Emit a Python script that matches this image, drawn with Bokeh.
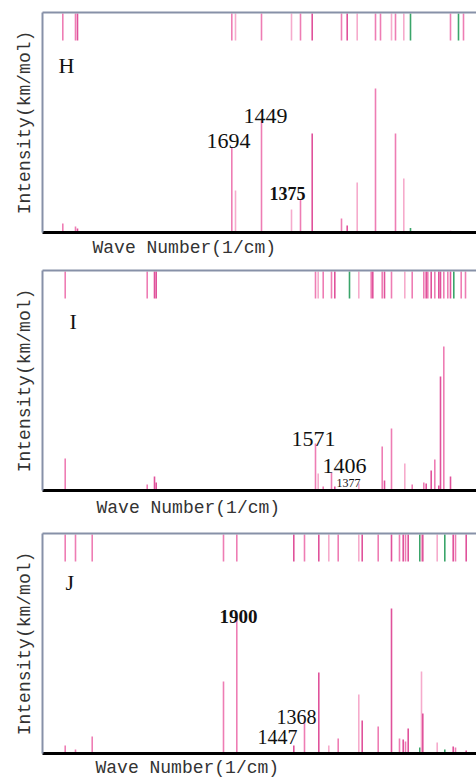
from bokeh.plotting import figure
from bokeh.layouts import column
from bokeh.models import Range1d, LinearAxis, FixedTicker, Title, Label, ColumnDataSource
from bokeh.embed import file_html
from bokeh.resources import INLINE

# ---- data (position along the spectrum in arbitrary units, intensity in km/mol, arbitrary scale) ----
H_pos = [20.3, 33, 35, 189.3, 193, 219, 249, 258, 269.7, 299, 304.7, 314.7, 333, 338, 349, 353, 361.3, 368, 408, 416, 421]
H_int = [9, 6, 4, 85, 42, 112, 23, 33, 99, 14, 7, 50, 144, 0.5, 0.5, 99, 54, 4.4, 1.7, 1, 0.5]
H_kind = ["P", "P", "D", "P", "L", "P", "L", "P", "D", "P", "D", "L", "P", "P", "L", "P", "L", "G", "P", "G", "P"]

I_pos = [22.7, 104.7, 112, 113.7, 273, 275.7, 280.7, 289, 292.3, 307, 316.3, 328.7, 330.3, 339.7, 342, 349, 362.3,
         369.7, 381.3, 383.7, 385.3, 388.7, 392.3, 396.3, 398, 401.3, 405.3, 408, 411.3, 418.7, 423]
I_int = [32, 6, 14, 8, 47, 17, 4, 18, 4, 0.5, 7, 0.5, 1, 44, 10, 62, 27,
         6, 8, 7, 0.5, 20, 31, 5, 114, 144, 0.5, 14, 0.5, 0.5, 0.5]
I_kind = ["P", "P", "D", "D", "P", "L", "P", "P", "D", "G", "L", "P", "D", "P", "D", "P", "L",
          "P", "P", "D", "P", "D", "P", "D", "D", "P", "P", "D", "G", "P", "P"]

J_pos = [22.7, 33, 49.7, 181, 194.3, 251.3, 262, 276.3, 286.3, 295.7, 316.3, 319.7, 335.7, 349, 357, 360.7, 363,
         365.7, 377.3, 379, 380.3, 394.7, 402.3, 410.7, 413, 423.7]
J_int = [8, 4, 17, 72, 135, 8, 32, 81, 8, 15, 59, 33, 27, 145, 15, 14, 12,
         25, 6, 82, 40, 11, 4, 7, 6, 3]
J_kind = ["P", "P", "P", "P", "P", "D", "P", "D", "L", "P", "L", "D", "P", "D", "P", "D", "P",
          "D", "G", "L", "D", "L", "G", "D", "P", "D"]

H_labels = ["1694", "1449", "1375"]
I_labels = ["1571", "1406", "1377"]
J_labels = ["1900", "1368", "1447"]

# ---- styles ----
PALETTE = {"P": "#ee7db4", "L": "#f6abcc", "D": "#e0529b", "G": "#3aa56a"}
FRAME = "#8791a8"

# label anchors (x, y in plot units), font size, weight
H_lab_style = [(186, 92, "22px", "normal"), (223, 117, "22px", "normal"), (245, 39, "18px", "bold")]
I_lab_style = [(271, 52, "22px", "normal"), (302, 25, "22px", "normal"), (306, 8, "12px", "normal")]
J_lab_style = [(196, 137, "19px", "bold"), (254, 37, "20px", "normal"), (235, 17, "20px", "normal")]


def panel(letter, letter_xy, pos, inten, kind, labels, lab_style, top, bottom, height, xoff, xstand):
    p = figure(width=476, height=height, x_range=Range1d(0, 434), y_range=Range1d(0, 220),
               output_backend="svg", toolbar_location=None,
               min_border_left=42, min_border_right=0, min_border_top=top, min_border_bottom=bottom,
               x_axis_location=None, y_axis_location=None)
    p.outline_line_color = None
    p.grid.visible = False
    p.background_fill_color = "white"
    p.border_fill_color = "white"

    cols = [PALETTE[k] for k in kind]
    src = ColumnDataSource(dict(x=pos, y=inten, c=cols))
    p.segment(x0="x", y0=0, x1="x", y1="y", line_color="c", line_width=1.6, source=src)
    p.segment(x0="x", y0=192, x1="x", y1=219, line_color="c", line_width=1.6, source=src)

    def bare_axis(place, color, width):
        ax = LinearAxis(ticker=FixedTicker(ticks=[]), axis_line_color=color, axis_line_width=width,
                        major_tick_in=0, major_tick_out=0, minor_tick_in=0, minor_tick_out=0,
                        major_label_text_font_size="0px")
        p.add_layout(ax, place)
        return ax

    bare_axis("below", "black", 3)
    bare_axis("above", FRAME, 2)
    yax = bare_axis("left", FRAME, 2)
    yax.axis_label = "Intensity(km/mol)"
    yax.axis_label_text_font = "Liberation Mono"
    yax.axis_label_text_font_size = "18px"
    yax.axis_label_text_font_style = "normal"
    yax.axis_label_text_color = "#333333"
    yax.axis_label_standoff = 8

    p.add_layout(Title(text="Wave Number(1/cm)", align="left", offset=xoff,
                       text_font="Liberation Mono", text_font_size="18px",
                       text_font_style="normal", text_color="#333333", standoff=xstand), "below")

    p.add_layout(Label(x=letter_xy[0], y=letter_xy[1], text=letter, text_font="Liberation Serif",
                       text_font_size="22px", text_color="#111111"))
    for t, (lx, ly, fs, fw) in zip(labels, lab_style):
        p.add_layout(Label(x=lx, y=ly, text=t, text_align="center", text_baseline="alphabetic",
                           text_font="Liberation Serif", text_font_size=fs, text_font_style=fw,
                           text_color="#111111"))
    return p


pH = panel("H", (16, 155), H_pos, H_int, H_kind, H_labels, H_lab_style, 12, 30, 262, 50, 7)
pI = panel("I", (27, 157), I_pos, I_int, I_kind, I_labels, I_lab_style, 8, 35, 263, 54, 10)
pJ = panel("J", (23, 159), J_pos, J_int, J_kind, J_labels, J_lab_style, 8, 26, 254, 53, 4)

layout = column(pH, pI, pJ, spacing=0)
open("out.html", "w").write(file_html(layout, INLINE))
